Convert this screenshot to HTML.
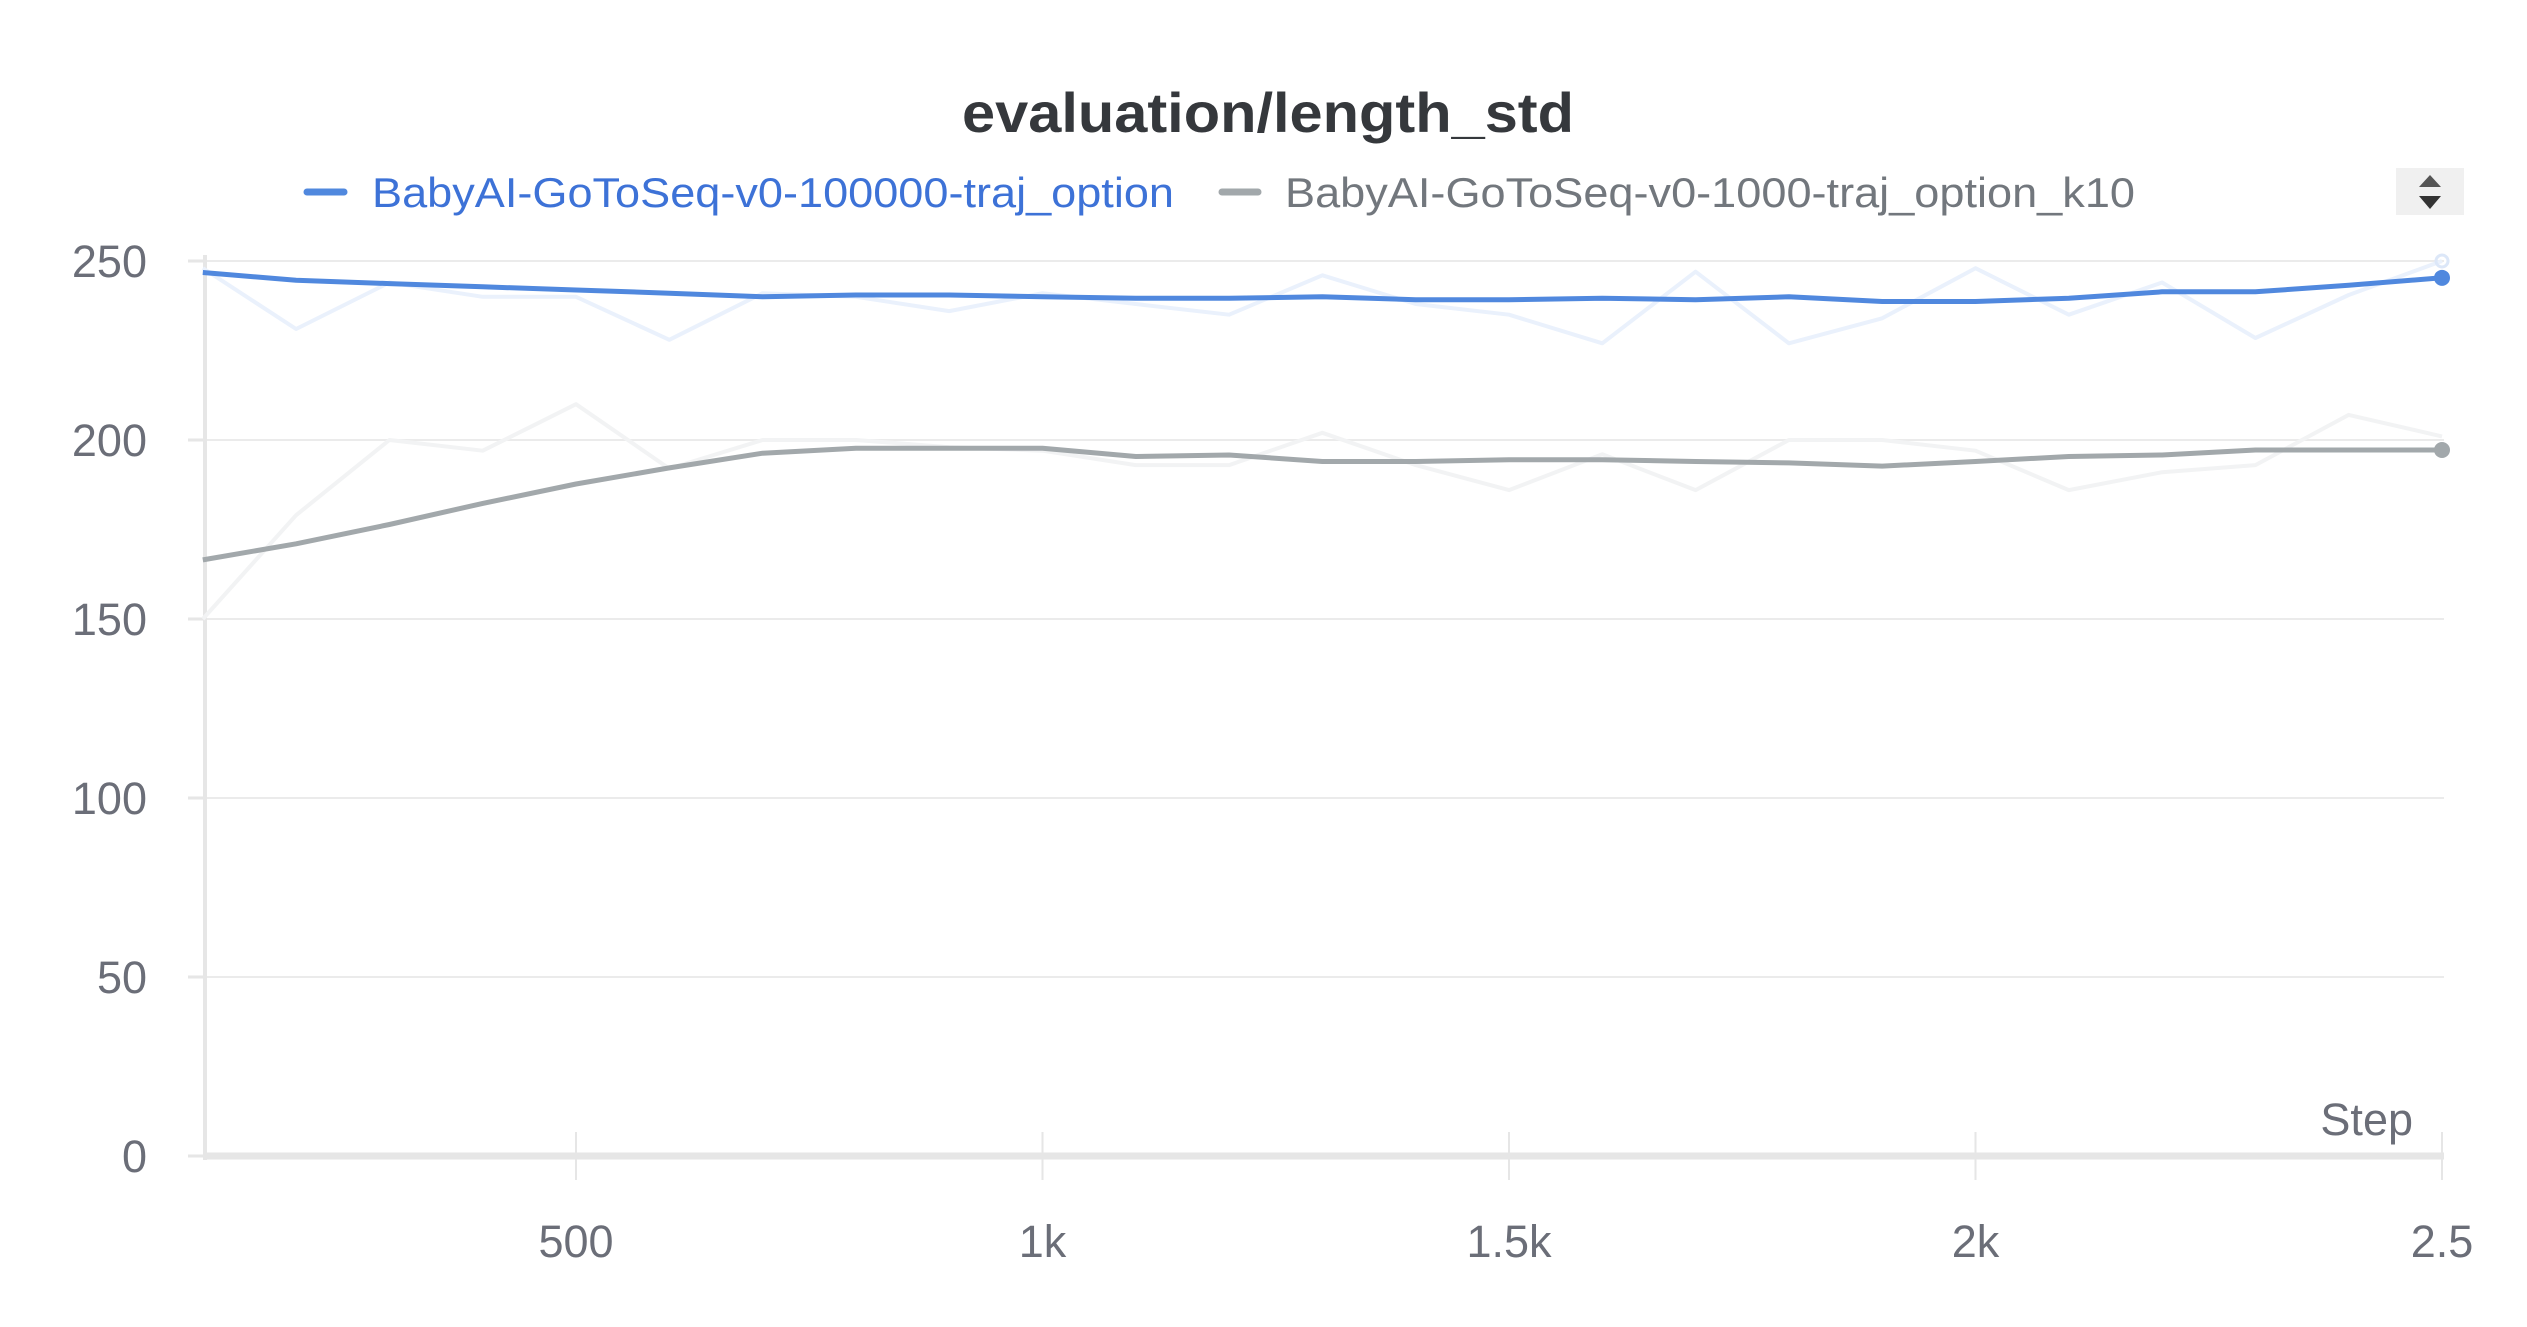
<!DOCTYPE html>
<html><head><meta charset="utf-8"><style>
html,body{margin:0;padding:0;background:#fff;}
svg{display:block;font-family:"Liberation Sans",sans-serif;}
</style></head><body>
<svg id="chart" width="2527" height="1327" viewBox="0 0 2527 1327">
<text x="1268" y="132" text-anchor="middle" font-size="56" font-weight="bold" fill="#35383c" textLength="612" lengthAdjust="spacingAndGlyphs">evaluation/length_std</text>
<g>
<g>
<line x1="307" y1="192" x2="344" y2="192" stroke="#5088de" stroke-width="7" stroke-linecap="round"/>
<text x="372" y="207" font-size="42" fill="#3d72d7" textLength="802" lengthAdjust="spacingAndGlyphs">BabyAI-GoToSeq-v0-100000-traj_option</text>
</g>
<g>
<line x1="1222" y1="192" x2="1258" y2="192" stroke="#a2a8ab" stroke-width="7" stroke-linecap="round"/>
<text x="1285" y="207" font-size="42" fill="#72777d" textLength="850" lengthAdjust="spacingAndGlyphs">BabyAI-GoToSeq-v0-1000-traj_option_k10</text>
</g>
</g>
<g>
<rect x="2396" y="168" width="68" height="47" fill="#f0f0f0"/>
<polygon points="2419,187 2441,187 2430,175" fill="#555"/>
<polygon points="2419,196 2441,196 2430,209" fill="#333"/>
</g>
<g id="grid"></g>
<g id="axes"></g>
<g id="series"></g>
<text x="2413" y="1135" text-anchor="end" font-size="45" fill="#6b6e78">Step</text>
</svg>
<script>
const steps = [100,200,300,400,500,600,700,800,900,1000,1100,1200,1300,1400,1500,1600,1700,1800,1900,2000,2100,2200,2300,2400,2500];
const blueSmooth = [246.8,244.6,243.7,242.8,241.9,241,240,240.5,240.5,240,239.6,239.6,240,239.2,239.2,239.6,239.2,240,238.7,238.7,239.6,241.4,241.4,243.2,245.3];
const blueRaw = [248,231,244,240,240,228,241,240,236,241,238,235,246,238,235,227,247,227,234,248,235,244,228.5,240.5,250];
const graySmooth = [166.5,171,176.4,182.3,187.7,192.2,196.3,197.7,197.7,197.7,195.4,195.8,194,194,194.5,194.5,194,193.6,192.7,194,195.4,195.8,197.2,197.2,197.2];
const grayRaw = [150,179,200,197,210,192,200,200,198,197,193,193,202,193,186,196,186,200,200,197,186,191,193,207,201];
const yTicks = [0,50,100,150,200,250];
const xTicks = [500,1000,1500,2000,2500];
const xTickLabels = ["500","1k","1.5k","2k","2.5"];

const NS = "http://www.w3.org/2000/svg";
const X0 = 109.5, XS = 0.933;
const Y0 = 1156, YS = 179/50;
function xs(v){return X0 + v*XS;}
function ys(v){return Y0 - v*YS;}
function mk(tag, attrs, parent){const e=document.createElementNS(NS,tag);for(const k in attrs)e.setAttribute(k,attrs[k]);parent.appendChild(e);return e;}
const grid=document.getElementById('grid'), axes=document.getElementById('axes'), series=document.getElementById('series');
const plotL = 205, plotR = xs(2500)+2;
yTicks.forEach((t,i)=>{
  if(t>0){
    const g=mk('line',{x1:plotL,x2:plotR,y1:ys(t),y2:ys(t),stroke:'#ebebeb','stroke-width':2},grid);
    
    
  }
  const tk=mk('line',{x1:188,x2:plotL,y1:ys(t),y2:ys(t),stroke:'#e6e6e6','stroke-width':3},axes);
  
  
  const lb=mk('text',{x:147,y:ys(t)+16,'text-anchor':'end','font-size':45,fill:'#6b6e78'},axes);
  lb.textContent=String(t);
  
  
});
xTicks.forEach((t,i)=>{
  const tk=mk('line',{x1:xs(t),x2:xs(t),y1:1132,y2:1180,stroke:'#e6e6e6','stroke-width':2},axes);
  
  
  const lb=mk('text',{x:xs(t),y:1257,'text-anchor':'middle','font-size':45,fill:'#6b6e78'},axes);
  lb.textContent=xTickLabels[i];
  
  
});
const la=mk('line',{x1:plotL,x2:plotL,y1:255,y2:1160,stroke:'#e6e6e6','stroke-width':4},axes);


const ba=mk('line',{x1:plotL,x2:plotR,y1:Y0,y2:Y0,stroke:'#e6e6e6','stroke-width':7},axes);


function path(vals){return vals.map((v,i)=>(i?'L':'M')+xs(steps[i]).toFixed(1)+','+ys(v).toFixed(1)).join(' ');}
const r1=mk('path',{d:path(blueRaw),fill:'none',stroke:'#eaf1fc','stroke-width':4,'stroke-linejoin':'round'},series);


const r2=mk('path',{d:path(grayRaw),fill:'none',stroke:'#f2f3f4','stroke-width':4,'stroke-linejoin':'round'},series);


const s2=mk('path',{d:path(graySmooth),fill:'none',stroke:'#a2a8ab','stroke-width':5,'stroke-linejoin':'round'},series);


const s1=mk('path',{d:path(blueSmooth),fill:'none',stroke:'#5088de','stroke-width':5,'stroke-linejoin':'round'},series);


const n=steps.length-1;
const d1=mk('circle',{cx:xs(steps[n]),cy:ys(blueSmooth[n]),r:8,fill:'#5088de'},series);


const d2=mk('circle',{cx:xs(steps[n]),cy:ys(graySmooth[n]),r:8,fill:'#a2a8ab'},series);


const d3=mk('circle',{cx:xs(steps[n]),cy:ys(blueRaw[n]),r:6,fill:'none',stroke:'#dce7f8','stroke-width':3},series);


</script>
</body></html>
